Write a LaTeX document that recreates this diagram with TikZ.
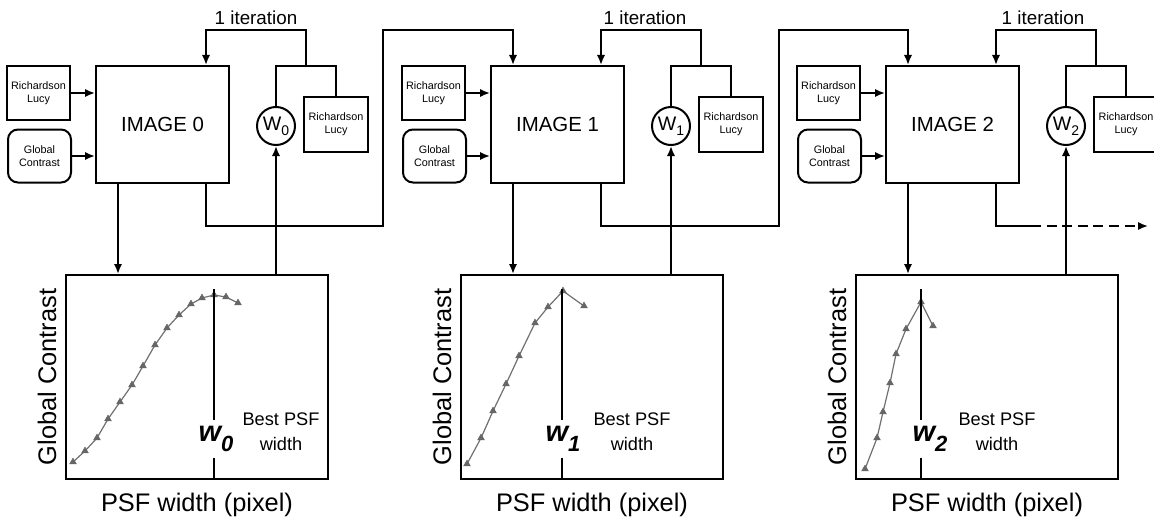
\documentclass[tikz,border=0pt]{standalone}
\usepackage{fontspec}
\setmainfont{Liberation Sans}
\usetikzlibrary{arrows.meta,calc,plotmarks}
\definecolor{curvegray}{HTML}{707070}
\definecolor{markgray}{HTML}{666666}
\begin{document}
\begin{tikzpicture}[x=0.5pt,y=-0.5pt,line width=1pt,
  arr/.style={-{Latex[length=5pt,width=4.2pt]}},
  box/.style={draw,rectangle,inner sep=0pt,align=center},
  smalltext/.style={font=\fontsize{5.4}{6.7}\selectfont},
  curveline/.style={draw=curvegray,line width=0.6pt,mark=triangle*,mark size=1.9pt,
    mark options={fill=markgray,draw=markgray,line width=0.3pt}},
  axislabel/.style={font=\fontsize{12.7}{13}\selectfont,inner sep=0pt},
  bestlabel/.style={font=\fontsize{9.1}{12.5}\selectfont,align=center,inner sep=0pt},
  wlabel/.style={font=\fontsize{14.5}{15}\selectfont\bfseries\itshape,inner sep=0pt}
]
\useasboundingbox (0,0) rectangle (1154,519);

\foreach \i/\dx/\lx in {0/0/256,1/395/645,2/790/1043}{
  % input boxes
  \node[box,smalltext,minimum width=31.5pt,minimum height=27pt] (RL\i) at (38.5+\dx,93) {Richardson\\Lucy};
  \node[box,smalltext,rounded corners=5pt,minimum width=31.5pt,minimum height=26.5pt] (GC\i) at (39.5+\dx,156) {Global\\Contrast};
  % image box
  \node[box,font=\fontsize{10.2}{11}\selectfont,minimum width=66.5pt,minimum height=58.5pt] (IMG\i) at (162.5+\dx,124.5) {IMAGE \i};
  % width circle
  \node[draw,circle,inner sep=0pt,minimum size=19pt] (W\i) at (276+\dx,126)
    {\fontsize{9.8}{10}\selectfont W\raisebox{-2.5pt}{\fontsize{7}{7}\selectfont\i}};
  % right RL box
  \node[box,smalltext,minimum width=32pt,minimum height=27.5pt] (RLr\i) at (336+\dx,124.5) {Richardson\\Lucy};
  % chart box
  \node[box,minimum width=131pt,minimum height=102pt] (C\i) at (197+\dx,377) {};
  \node[axislabel,rotate=90] (GCL\i) at (47+\dx,377) {Global Contrast};
  \node[axislabel,anchor=base] (PSF\i) at (197+\dx,511) {PSF width (pixel)};
  % iteration label
  \node[font=\fontsize{9.4}{10}\selectfont,inner sep=0pt] (IT\i) at (\lx,17.5) {1 iteration};

  % connectors
  \draw[arr] (RL\i.east) -- (RL\i.east -| IMG\i.west);
  \draw[arr] (GC\i.east) -- (GC\i.east -| IMG\i.west);
  \coordinate (J\i) at (306+\dx,66);
  \coordinate (LI\i) at ($(IMG\i.north west)+(111,0)$);
  \coordinate (DN\i) at ($(IMG\i.south west)+(23,0)$);
  \coordinate (OUT\i) at ($(IMG\i.south west)+(111,0)$);
  \draw (W\i.north) |- (J\i) -| (RLr\i.north);
  \draw[arr] (J\i) -- ++(0,-36) -| (LI\i);
  \draw[arr] (DN\i) -- (DN\i |- C\i.north);
  \draw[arr] (W\i |- C\i.north) -- (W\i.south);
}

% connections between stages
\coordinate (M0) at (383,226);
\coordinate (T0) at (383,30);
\coordinate (IN1) at ($(IMG1.north west)+(23,0)$);
\draw[arr] (OUT0) |- (M0) -- (T0) -| (IN1);
\coordinate (M1) at (779,226);
\coordinate (T1) at (779,30);
\coordinate (IN2) at ($(IMG2.north west)+(23,0)$);
\draw[arr] (OUT1) |- (M1) -- (T1) -| (IN2);
\coordinate (D2) at (1031,226);
\coordinate (E2) at (1148,226);
\draw (OUT2) |- (D2);
\draw[arr,dash pattern=on 5pt off 2.8pt] (D2) -- (E2);

% chart 0
\draw[curveline] plot coordinates {(73,462) (85,451) (97,438) (108,419) (120,402) (132,385) (143,366) (155,345) (167,328) (179,315) (191,304) (202,298) (214,295) (226,297) (238,303)};
\draw (214,289) -- (214,420);
\draw (214,458) -- (214,479);
\node[wlabel] (WL0) at (216,439) {w\raisebox{-5pt}{\fontsize{11}{11}\selectfont 0}};
\node[bestlabel] (B0) at (281,432) {Best PSF\\width};

% chart 1
\draw[curveline] plot coordinates {(467,464) (481,438) (493,411) (506,384) (519,356) (535,323) (548,307) (563,291) (584,306)};
\draw (562,289) -- (562,420);
\draw (562,458) -- (562,479);
\node[wlabel] (WL1) at (563,439) {w\raisebox{-5pt}{\fontsize{11}{11}\selectfont 1}};
\node[bestlabel] (B1) at (632,432) {Best PSF\\width};

% chart 2
\draw[curveline] plot coordinates {(865,469) (877,438) (883,412) (890,383) (896,354) (906,329) (921,302) (933,326)};
\draw (921,289) -- (921,420);
\draw (921,458) -- (921,479);
\node[wlabel] (WL2) at (930,439) {w\raisebox{-5pt}{\fontsize{11}{11}\selectfont 2}};
\node[bestlabel] (B2) at (997,432) {Best PSF\\width};
\end{tikzpicture}
\end{document}
